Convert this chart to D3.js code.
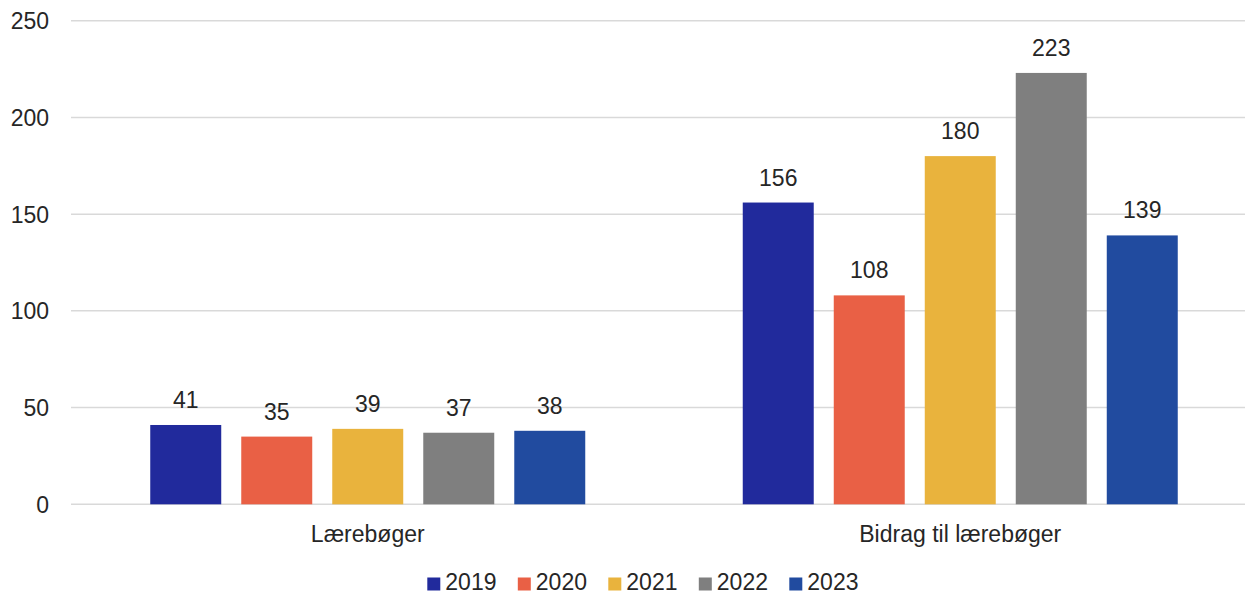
<!DOCTYPE html>
<html>
<head>
<meta charset="utf-8">
<script src="https://cdn.jsdelivr.net/npm/d3@7"></script>
<style>
  html, body { margin: 0; padding: 0; background: #fff; }
  svg { display: block; font-family: "Liberation Sans", Arial, sans-serif; }
</style>
</head>
<body>
<svg id="chart" width="1245" height="595"></svg>
<script>
const categories = ["Lærebøger", "Bidrag til lærebøger"];
const years = ["2019", "2020", "2021", "2022", "2023"];
const values2019 = [41, 156];
const values2020 = [35, 108];
const values2021 = [39, 180];
const values2022 = [37, 223];
const values2023 = [38, 139];
const yTicks = [0, 50, 100, 150, 200, 250];
const colors = ["#212A9C", "#E96045", "#E9B33D", "#7F7F7F", "#214B9F"];

const seriesValues = [values2019, values2020, values2021, values2022, values2023];
const svg = d3.select("#chart");
const textColor = "#262626";
const fontSize = 23;

const y = d3.scaleLinear().domain([0, 250]).range([504.3, 20.7]);
const x0 = d3.scaleBand().domain(categories).range([71.5, 1256.5]).paddingInner(0).paddingOuter(0);
const x1 = d3.scaleBand().domain(years).range([78.75, 513.75]).paddingInner(0.22).paddingOuter(0);
const color = d3.scaleOrdinal().domain(years).range(colors);

// gridlines
svg.append("g").selectAll("line").data(yTicks).join("line")
  .attr("x1", 71).attr("x2", 1245)
  .attr("y1", d => y(d)).attr("y2", d => y(d))
  .attr("stroke", "#d9d9d9").attr("stroke-width", 1.5);

// y axis labels
const yAxis = d3.axisLeft(y).tickValues(yTicks).tickSize(0).tickPadding(0).tickFormat(d3.format("d"));
const gy = svg.append("g").attr("transform", "translate(49,0)").call(yAxis);
gy.select(".domain").remove();
gy.selectAll("text").attr("font-size", fontSize).attr("fill", textColor)
  .attr("font-family", "Liberation Sans, Arial, sans-serif").attr("dy", "0.35em");

// bars
const data = categories.map((c, i) => ({ cat: c, vals: years.map((yr, j) => ({ year: yr, value: seriesValues[j][i] })) }));
const groups = svg.append("g").selectAll("g").data(data).join("g")
  .attr("transform", d => `translate(${x0(d.cat)},0)`);
groups.selectAll("rect").data(d => d.vals).join("rect")
  .attr("x", d => x1(d.year)).attr("width", x1.bandwidth())
  .attr("y", d => y(d.value)).attr("height", d => y(0) - y(d.value))
  .attr("fill", d => color(d.year));
groups.selectAll("text").data(d => d.vals).join("text")
  .attr("x", d => x1(d.year) + x1.bandwidth() / 2)
  .attr("y", d => y(d.value) - 17)
  .attr("text-anchor", "middle").attr("font-size", fontSize).attr("fill", textColor)
  .text(d => d.value);

// x axis labels
const xAxis = d3.axisBottom(x0).tickSize(0).tickPadding(0);
const gx = svg.append("g").attr("transform", "translate(0,541.5)").call(xAxis);
gx.select(".domain").remove();
gx.selectAll("text").attr("font-size", fontSize).attr("fill", textColor)
  .attr("font-family", "Liberation Sans, Arial, sans-serif").attr("dy", 0);

// legend
const legendStep = 90.5;
const legend = svg.append("g").selectAll("g").data(years).join("g")
  .attr("transform", (d, i) => `translate(${427.3 + i * legendStep},0)`);
legend.append("rect").attr("x", 0).attr("y", 577.5).attr("width", 13).attr("height", 13)
  .attr("fill", d => color(d));
legend.append("text").attr("x", 18).attr("y", 590.3)
  .attr("font-size", fontSize).attr("fill", textColor).text(d => d);
</script>
</body>
</html>
